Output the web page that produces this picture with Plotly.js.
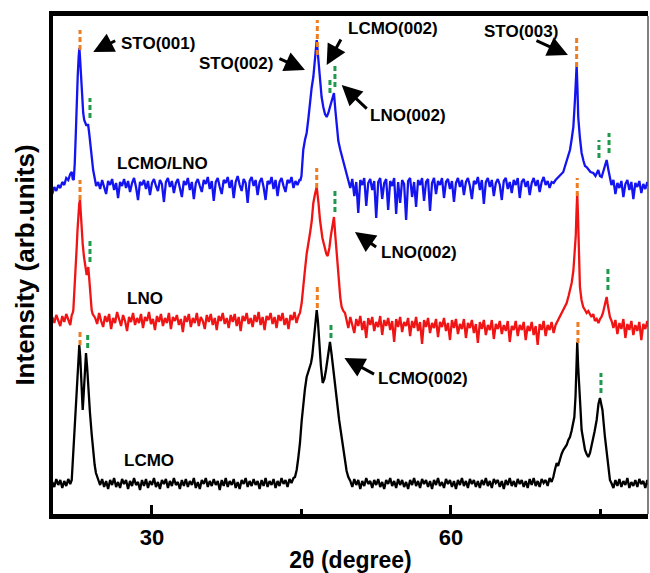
<!DOCTYPE html>
<html><head><meta charset="utf-8">
<script src="https://cdn.plot.ly/plotly-3.0.1.min.js"></script>
<style>html,body{margin:0;padding:0;background:#fff}#chart{width:650px;height:573px}</style>
</head><body><div id="chart"></div>
<script>
const FONT = 'Arial, "Liberation Sans", sans-serif';

// ---- data (2theta in degrees, intensity in arbitrary offset units) ----
const seriesNames = ['LCMO/LNO', 'LNO', 'LCMO'];
const seriesColors = ['#1414f0', '#f01414', '#000000'];

const blueXY = [
[20.0,322],[20.2,329],[20.4,325],[20.6,331],[20.8,328],[21.0,334],[21.2,331],[21.4,338],[21.6,336],[21.8,342],[21.95,344],[22.05,337],[22.15,336],[22.25,352],[22.35,380],[22.45,416],[22.55,440],[22.65,460],[22.72,468],[22.8,455],[22.9,432],[23.0,416],[23.1,403],[23.2,396],[23.3,393],[23.4,391],[23.5,391],[23.6,391],[23.7,383],[23.8,374],[23.9,362],[24.0,354],[24.1,346],[24.25,338],[24.4,330],
[24.6,334],[24.8,327],[25.0,336],[25.2,330],[25.4,322],[25.6,335],[25.8,331],[26.0,337],[26.2,326],[26.4,333],[26.6,318],[26.8,334],[27.0,330],[27.2,337],[27.4,328],[27.6,335],[27.8,324],[28.0,333],[28.2,338],[28.4,329],[28.6,316],[28.8,334],[29.0,331],[29.2,336],[29.4,327],[29.6,335],[29.8,321],[30.0,333],[30.2,337],[30.4,330],[30.6,325],[30.8,336],[31.0,332],[31.2,314],[31.4,334],[31.6,338],[31.8,329],[32.0,335],[32.2,323],[32.4,333],[32.6,337],[32.8,328],[33.0,319],[33.2,335],[33.4,331],[33.6,338],[33.8,326],[34.0,334],[34.2,317],[34.4,333],[34.6,337],[34.8,330],[35.0,324],[35.2,336],[35.4,332],[35.6,339],[35.8,327],[36.0,335],[36.2,315],[36.4,334],[36.6,338],[36.8,329],[37.0,322],[37.2,336],[37.4,333],[37.6,339],[37.8,328],[38.0,336],[38.2,318],[38.4,334],[38.6,340],[38.8,331],[39.0,325],[39.2,337],[39.4,333],[39.6,313],[39.8,335],[40.0,339],[40.2,330],[40.4,336],[40.6,321],[40.8,334],[41.0,338],[41.2,329],[41.4,316],[41.6,335],[41.8,332],[42.0,339],[42.2,327],[42.4,336],[42.6,320],[42.8,334],[43.0,338],[43.2,330],[43.4,324],[43.6,336],[43.8,333],[44.0,339],[44.2,328],[44.4,335],[44.6,331],[44.8,336],
[44.9,336],[45.0,340],[45.1,352],[45.18,366],[45.35,376],[45.52,383],[45.7,398],[45.86,416],[46.02,428],[46.19,439],[46.36,458],[46.53,476],[46.7,456],[46.86,433],[47.02,419],[47.19,409],[47.36,402],[47.53,399],[47.7,403],[47.86,409],[48.06,416],[48.26,423],[48.4,406],[48.53,389],[48.7,375],[48.9,366],[49.07,359],[49.3,350],[49.52,343],
[49.7,336],[49.9,328],[50.1,337],[50.3,320],[50.5,334],[50.7,303],[50.9,336],[51.1,331],[51.3,338],[51.5,310],[51.7,333],[51.9,337],[52.1,326],[52.3,335],[52.5,298],[52.7,334],[52.9,338],[53.1,317],[53.3,333],[53.5,337],[53.7,306],[53.9,335],[54.1,330],[54.3,338],[54.5,302],[54.7,334],[54.9,313],[55.1,336],[55.3,332],[55.5,296],[55.7,335],[55.9,338],[56.1,319],[56.3,334],[56.5,309],[56.7,336],[56.9,331],[57.1,338],[57.3,315],[57.5,334],[57.7,337],[57.9,305],[58.1,333],[58.3,338],[58.5,322],[58.7,335],[58.9,331],[59.1,338],[59.3,318],[59.5,334],[59.7,337],[59.9,327],[60.1,335],[60.3,314],[60.5,333],[60.7,338],[60.9,329],[61.1,336],[61.3,321],[61.5,334],[61.7,338],[61.9,330],[62.1,317],[62.3,335],[62.5,332],[62.7,339],[62.9,326],[63.1,336],[63.3,312],[63.5,334],[63.7,338],[63.9,329],[64.1,336],[64.3,320],[64.5,333],[64.7,337],[64.9,331],[65.1,316],[65.3,335],[65.5,338],[65.7,327],[65.9,334],[66.1,323],[66.3,336],[66.5,331],[66.7,338],[66.9,318],[67.1,334],[67.3,337],[67.5,329],[67.7,335],[67.9,321],[68.1,333],[68.3,338],[68.5,330],[68.7,336],[68.9,324],[69.1,334],[69.3,339],[69.5,331],[69.7,335],[69.9,328],[70.1,334],
[70.3,333],[70.5,336],[70.7,338],[70.9,340],[71.1,342],[71.27,344],[71.45,350],[71.61,356],[71.8,362],[71.94,366],[72.1,376],[72.28,389],[72.44,416],[72.53,436],[72.61,451],[72.69,428],[72.77,399],[72.94,378],[73.11,363],[73.3,355],[73.45,350],[73.61,349],[73.8,346],[74.0,344],[74.28,343],[74.5,340],[74.78,346],[74.95,340],[75.12,339],[75.3,345],[75.45,351],[75.62,356],[75.8,346],[75.95,336],
[76.1,331],[76.3,336],[76.5,322],[76.7,333],[76.9,328],[77.1,335],[77.3,319],[77.5,332],[77.7,336],[77.9,326],[78.1,334],[78.3,317],[78.5,333],[78.7,329],[78.9,335],[79.1,323],[79.3,332],[79.5,327],[79.7,334],[79.8,330]
];

const redXY = [
[20.0,199],[20.2,193],[20.4,201],[20.6,195],[20.8,190],[21.0,200],[21.2,194],[21.4,202],[21.6,196],[21.8,191],[21.95,201],[22.05,203],[22.11,206],[22.2,220],[22.28,236],[22.36,252],[22.45,269],[22.53,286],[22.61,303],[22.7,312],[22.78,316],[22.86,300],[22.95,286],[23.05,272],[23.18,259],[23.3,250],[23.45,241],[23.53,244],[23.61,249],[23.7,238],[23.78,226],[23.87,215],[23.95,206],[24.05,202],[24.11,201],
[24.3,198],[24.5,192],[24.7,203],[24.9,195],[25.1,189],[25.3,200],[25.5,194],[25.7,202],[25.9,187],[26.1,198],[26.3,193],[26.5,204],[26.7,196],[26.9,190],[27.1,201],[27.3,195],[27.5,185],[27.7,199],[27.9,194],[28.1,203],[28.3,191],[28.5,198],[28.7,193],[28.9,202],[29.1,188],[29.3,199],[29.5,195],[29.7,204],[29.9,192],[30.1,197],[30.3,186],[30.5,200],[30.7,194],[30.9,202],[31.1,190],[31.3,198],[31.5,193],[31.7,203],[31.9,187],[32.1,199],[32.3,195],[32.5,201],[32.7,191],[32.9,197],[33.1,184],[33.3,200],[33.5,194],[33.7,202],[33.9,189],[34.1,198],[34.3,193],[34.5,203],[34.7,190],[34.9,199],[35.1,195],[35.3,187],[35.5,201],[35.7,194],[35.9,202],[36.1,191],[36.3,198],[36.5,186],[36.7,200],[36.9,195],[37.1,203],[37.3,192],[37.5,198],[37.7,188],[37.9,201],[38.1,194],[38.3,202],[38.5,190],[38.7,199],[38.9,185],[39.1,200],[39.3,195],[39.5,203],[39.7,192],[39.9,198],[40.1,189],[40.3,201],[40.5,194],[40.7,204],[40.9,191],[41.1,199],[41.3,186],[41.5,200],[41.7,196],[41.9,203],[42.1,192],[42.3,199],[42.5,188],[42.7,201],[42.9,195],[43.1,203],[43.3,191],[43.5,198],[43.7,187],[43.9,201],[44.1,196],[44.3,204],[44.5,193],[44.7,200],
[44.85,203],[45.02,213],[45.18,232],[45.35,246],[45.52,262],[45.7,276],[45.86,283],[46.03,295],[46.19,313],[46.36,322],[46.53,329],[46.7,314],[46.86,296],[47.1,278],[47.36,266],[47.5,262],[47.63,260],[47.8,268],[47.96,281],[48.1,292],[48.26,299],[48.4,280],[48.53,263],[48.66,245],[48.79,229],[48.9,218],[49.03,209],[49.2,205],[49.37,203],
[49.5,196],[49.7,188],[49.9,199],[50.1,191],[50.3,183],[50.5,197],[50.7,190],[50.9,200],[51.1,186],[51.3,195],[51.5,178],[51.7,198],[51.9,191],[52.1,199],[52.3,185],[52.5,194],[52.7,189],[52.9,200],[53.1,181],[53.3,196],[53.5,190],[53.7,198],[53.9,186],[54.1,195],[54.3,174],[54.5,197],[54.7,189],[54.9,199],[55.1,184],[55.3,194],[55.5,190],[55.7,198],[55.9,180],[56.1,195],[56.3,188],[56.5,199],[56.7,185],[56.9,194],[57.1,172],[57.3,196],[57.5,189],[57.7,198],[57.9,183],[58.1,193],[58.3,188],[58.5,197],[58.7,179],[58.9,194],[59.1,189],[59.3,198],[59.5,185],[59.7,193],[59.9,176],[60.1,196],[60.3,188],[60.5,197],[60.7,182],[60.9,192],[61.1,187],[61.3,197],[61.5,178],[61.7,193],[61.9,188],[62.1,196],[62.3,183],[62.5,192],[62.7,173],[62.9,194],[63.1,187],[63.3,196],[63.5,181],[63.7,191],[63.9,186],[64.1,196],[64.3,177],[64.5,192],[64.7,187],[64.9,195],[65.1,182],[65.3,191],[65.5,185],[65.7,195],[65.9,174],[66.1,190],[66.3,186],[66.5,195],[66.7,180],[66.9,191],[67.1,186],[67.3,194],[67.5,176],[67.7,190],[67.9,185],[68.1,194],[68.3,181],[68.5,190],[68.7,171],[68.9,192],[69.1,186],[69.3,195],[69.5,180],[69.7,191],[69.9,186],[70.1,194],[70.3,183],[70.5,191],[70.7,195],
[70.94,199],[71.1,203],[71.27,206],[71.45,209],[71.61,213],[71.8,220],[71.95,226],[72.11,233],[72.28,245],[72.44,263],[72.52,280],[72.6,305],[72.67,323],[72.74,302],[72.8,275],[72.87,250],[72.94,229],[73.1,216],[73.27,209],[73.45,206],[73.61,203],[73.78,205],[73.94,201],[74.1,199],[74.28,202],[74.45,195],[74.62,197],[74.8,193],[74.95,197],[75.1,199],[75.25,203],[75.4,209],[75.52,215],[75.62,219],[75.72,212],[75.82,205],[75.95,199],[76.12,195],
[76.3,188],[76.5,196],[76.7,182],[76.9,193],[77.1,187],[77.3,197],[77.5,178],[77.7,192],[77.9,186],[78.1,195],[78.3,181],[78.5,191],[78.7,185],[78.9,194],[79.1,176],[79.3,192],[79.5,187],[79.7,195],[79.8,189]
];

const blackXY = [
[20.0,34],[20.2,29],[20.4,37],[20.6,31],[20.8,36],[21.0,28],[21.2,35],[21.4,30],[21.6,37],[21.8,32],[21.95,36],[22.03,50],[22.11,69],[22.28,102],[22.45,136],[22.58,158],[22.71,171],[22.8,160],[22.9,130],[23.05,106],[23.15,122],[23.25,148],[23.38,163],[23.5,148],[23.62,125],[23.78,103],[23.95,82],[24.11,63],[24.25,51],[24.38,43],[24.5,38],[24.62,36],
[24.8,31],[25.0,37],[25.2,29],[25.4,35],[25.6,27],[25.8,36],[26.0,31],[26.2,38],[26.4,29],[26.6,34],[26.8,28],[27.0,37],[27.2,32],[27.4,36],[27.6,27],[27.8,35],[28.0,30],[28.2,38],[28.4,31],[28.6,34],[28.8,26],[29.0,36],[29.2,30],[29.4,37],[29.6,28],[29.8,35],[30.0,31],[30.2,38],[30.4,29],[30.6,34],[30.8,27],[31.0,36],[31.2,32],[31.4,37],[31.6,28],[31.8,35],[32.0,30],[32.2,38],[32.4,31],[32.6,34],[32.8,27],[33.0,36],[33.2,30],[33.4,37],[33.6,29],[33.8,35],[34.0,31],[34.2,38],[34.4,28],[34.6,34],[34.8,27],[35.0,36],[35.2,32],[35.4,38],[35.6,29],[35.8,35],[36.0,30],[36.2,37],[36.4,31],[36.6,35],[36.8,26],[37.0,36],[37.2,30],[37.4,38],[37.6,29],[37.8,35],[38.0,31],[38.2,37],[38.4,28],[38.6,34],[38.8,27],[39.0,36],[39.2,32],[39.4,38],[39.6,29],[39.8,35],[40.0,30],[40.2,37],[40.4,31],[40.6,35],[40.8,27],[41.0,36],[41.2,30],[41.4,38],[41.6,29],[41.8,35],[42.0,31],[42.2,37],[42.4,28],[42.6,35],[42.8,30],[43.0,38],[43.2,32],[43.4,36],[43.6,29],[43.8,37],[44.0,33],[44.2,38],
[44.35,39],[44.52,46],[44.68,58],[44.85,73],[45.02,95],[45.18,113],[45.35,127],[45.52,139],[45.75,147],[45.96,153],[46.08,160],[46.19,173],[46.36,192],[46.53,206],[46.65,195],[46.8,170],[46.95,150],[47.13,133],[47.3,137],[47.46,146],[47.65,162],[47.86,174],[48.02,162],[48.19,146],[48.36,130],[48.53,113],[48.78,96],[49.03,79],[49.2,66],[49.37,53],[49.53,45],[49.7,39],
[49.9,35],[50.1,29],[50.3,37],[50.5,31],[50.7,36],[50.9,27],[51.1,35],[51.3,30],[51.5,38],[51.7,32],[51.9,35],[52.1,28],[52.3,36],[52.5,31],[52.7,37],[52.9,29],[53.1,34],[53.3,27],[53.5,36],[53.7,32],[53.9,38],[54.1,30],[54.3,35],[54.5,28],[54.7,37],[54.9,31],[55.1,36],[55.3,29],[55.5,34],[55.7,27],[55.9,36],[56.1,31],[56.3,38],[56.5,30],[56.7,35],[56.9,28],[57.1,37],[57.3,32],[57.5,36],[57.7,29],[57.9,35],[58.1,27],[58.3,36],[58.5,31],[58.7,38],[58.9,30],[59.1,34],[59.3,28],[59.5,37],[59.7,32],[59.9,36],[60.1,29],[60.3,35],[60.5,27],[60.7,36],[60.9,31],[61.1,38],[61.3,30],[61.5,35],[61.7,28],[61.9,37],[62.1,32],[62.3,36],[62.5,29],[62.7,35],[62.9,28],[63.1,36],[63.3,31],[63.5,38],[63.7,30],[63.9,35],[64.1,28],[64.3,37],[64.5,33],[64.7,36],[64.9,29],[65.1,35],[65.3,27],[65.5,36],[65.7,31],[65.9,38],[66.1,30],[66.3,35],[66.5,29],[66.7,37],[66.9,32],[67.1,36],[67.3,29],[67.5,35],[67.7,28],[67.9,37],[68.1,31],[68.3,38],[68.5,30],[68.7,35],[68.9,29],[69.1,37],[69.3,33],[69.5,36],[69.7,30],[69.9,38],[70.1,34],
[70.27,39],[70.45,47],[70.61,53],[70.75,50],[70.94,58],[71.1,62],[71.27,66],[71.45,69],[71.61,71],[71.78,76],[71.94,79],[72.1,85],[72.2,91],[72.38,99],[72.5,120],[72.58,146],[72.67,174],[72.76,150],[72.86,136],[72.98,110],[73.11,86],[73.27,75],[73.45,66],[73.61,62],[73.78,59],[73.95,63],[74.15,71],[74.4,84],[74.62,96],[74.8,112],[74.95,118],[75.1,112],[75.2,106],[75.45,79],[75.62,62],[75.79,46],[75.95,36],
[76.1,33],[76.3,28],[76.5,36],[76.7,30],[76.9,37],[77.1,29],[77.3,35],[77.5,31],[77.7,38],[77.9,28],[78.1,34],[78.3,30],[78.5,36],[78.7,29],[78.9,37],[79.1,32],[79.3,35],[79.5,28],[79.7,36],[79.8,31]
];

// substrate (STO) reference marks: position and vertical extent
const stoMarkX  = [22.78, 46.59, 72.61, 22.78, 46.53, 72.67, 22.78, 46.59, 72.74];
const stoMarkLo = [466, 461, 449, 316, 328, 320, 171, 208, 173];
const stoMarkHi = [486, 496, 481, 336, 348, 338, 184, 231, 194];
// film reference marks
const filmMarkX  = [23.78, 47.86, 48.36, 74.85, 75.86, 23.78, 48.36, 75.75, 23.55, 47.96, 75.05];
const filmMarkLo = [398, 423, 429, 358, 363, 254, 304, 226, 168, 178, 123];
const filmMarkHi = [418, 439, 451, 376, 383, 276, 326, 248, 183, 194, 143];

const xTickVals = [30, 60];
const xTickText = ['30', '60'];
const minorTickVals = [45, 75];

// ---- build traces ----
const seriesData = [blueXY, redXY, blackXY];
const traces = seriesData.map((d, i) => ({
  type: 'scatter', mode: 'lines', name: seriesNames[i],
  x: d.map(p => p[0]), y: d.map(p => p[1]),
  line: {color: seriesColors[i], width: 2.3}, hoverinfo: 'skip'
}));

function markTrace(xs, lo, hi, color) {
  const x = [], y = [];
  xs.forEach((v, i) => { x.push(v, v, null); y.push(lo[i], hi[i], null); });
  return {type: 'scatter', mode: 'lines', x, y, connectgaps: false,
    line: {color, width: 3, dash: '5px,3px'}, hoverinfo: 'skip'};
}
traces.push(markTrace(stoMarkX, stoMarkLo, stoMarkHi, '#ee7d22'));
traces.push(markTrace(filmMarkX, filmMarkLo, filmMarkHi, '#1f9a4c'));

// ---- annotations ----
const lblFont = {family: FONT, size: 17, color: '#000', weight: 'bold'};
function txt(x, y, t) { return {x, y, xref: 'x', yref: 'y', text: t, showarrow: false, font: lblFont, xanchor: 'center', yanchor: 'middle'}; }
function arr(hx, hy, tx, ty) {
  return {x: hx, y: hy, ax: tx, ay: ty, xref: 'x', yref: 'y', axref: 'x', ayref: 'y',
    text: '', showarrow: true, arrowhead: 2, arrowsize: 1.35, arrowwidth: 3, arrowcolor: '#000'};
}
const annotations = [
  txt(30.61, 473, 'STO(001)'), arr(24.11, 464, 26.46, 476),
  txt(38.43, 453, 'STO(002)'), arr(45.35, 446, 42.64, 458),
  txt(54.18, 488, 'LCMO(002)'), arr(47.53, 451, 49.04, 478),
  txt(55.69, 401, 'LNO(002)'), arr(49.04, 431, 51.70, 406),
  txt(67.02, 485, 'STO(003)'), arr(71.74, 461, 68.43, 476),
  txt(56.79, 264, 'LNO(002)'), arr(50.37, 284, 52.64, 268),
  txt(57.19, 138, 'LCMO(002)'), arr(49.31, 158, 52.43, 141),
  txt(31.01, 353, seriesNames[0]),
  txt(29.30, 218, seriesNames[1]),
  txt(29.70, 56, seriesNames[2])
];

const layout = {
  width: 650, height: 573,
  margin: {l: 53, r: 2, t: 16, b: 59},
  paper_bgcolor: '#fff', plot_bgcolor: '#fff',
  showlegend: false,
  font: {family: FONT, color: '#000'},
  xaxis: {
    range: [20.07, 79.77], showgrid: false, zeroline: false,
    showline: true, linewidth: 5, linecolor: '#000', mirror: true,
    tickmode: 'array', tickvals: xTickVals, ticktext: xTickText,
    ticks: 'inside', ticklen: 9, tickwidth: 3, tickcolor: '#000',
    minor: {tickmode: 'array', tickvals: minorTickVals, ticks: 'inside', ticklen: 5, tickwidth: 3, tickcolor: '#000'},
    tickfont: {family: FONT, size: 22, color: '#000', weight: 'bold'},
    title: {text: '2θ (degree)', font: {family: FONT, size: 23, color: '#000', weight: 'bold'}, standoff: 4}
  },
  yaxis: {
    range: [2, 500], showgrid: false, zeroline: false,
    showline: true, linewidth: 4, linecolor: '#000', mirror: false,
    ticks: '', showticklabels: false,
    title: {text: 'Intensity (arb.units)', font: {family: FONT, size: 26, color: '#000', weight: 'bold'}, standoff: 8}
  },
  shapes: [{type: 'line', xref: 'paper', yref: 'paper', x0: 1, x1: 1, y0: 0, y1: 1, line: {color: '#555', width: 1.5}}],
  annotations
};

Plotly.newPlot('chart', traces, layout, {displayModeBar: false, staticPlot: true});
</script>
</body></html>
